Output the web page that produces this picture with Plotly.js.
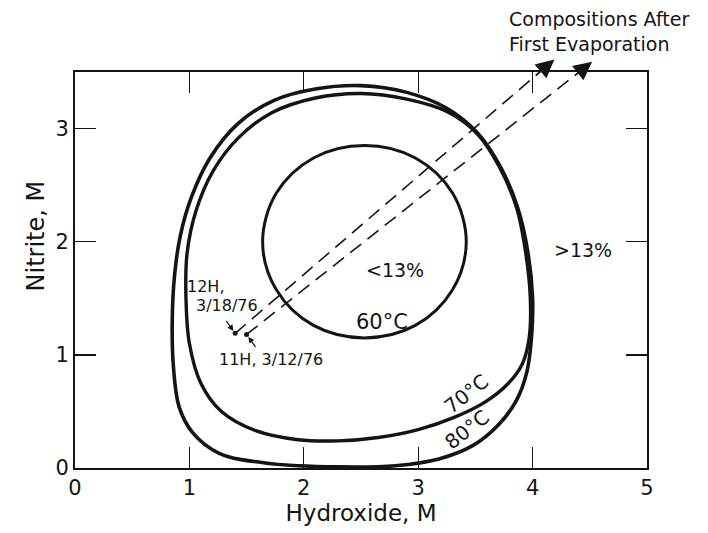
<!DOCTYPE html>
<html>
<head>
<meta charset="utf-8">
<script src="https://cdn.plot.ly/plotly-3.0.1.min.js"></script>
<style>html,body{margin:0;padding:0;background:#fff;}#chart{width:708px;height:533px;}</style>
</head>
<body>
<div id="chart"></div>
<script>
// 60 °C solubility boundary (inner closed curve)
const c60x = [3.42, 3.30, 2.975, 2.53, 2.085, 1.76, 1.64, 1.76, 2.085, 2.53, 2.975, 3.30, 3.42];
const c60y = [2.00, 2.43, 2.74, 2.85, 2.74, 2.43, 2.00, 1.575, 1.26, 1.15, 1.26, 1.575, 2.00];
// 70 °C boundary
const c70x = [2.50, 2.90, 3.25, 3.52, 3.71, 3.86, 3.94, 3.98, 3.97, 3.91, 3.78, 3.58, 3.32, 3.00, 2.65, 2.30, 1.95, 1.58, 1.28, 1.10, 1.00, 0.97, 0.98, 1.06, 1.21, 1.43, 1.72, 2.10, 2.50];
const c70y = [3.31, 3.26, 3.15, 2.95, 2.66, 2.30, 1.90, 1.50, 1.15, 0.92, 0.74, 0.58, 0.45, 0.34, 0.27, 0.24, 0.25, 0.33, 0.50, 0.75, 1.10, 1.50, 1.90, 2.28, 2.63, 2.92, 3.14, 3.27, 3.31];
// 80 °C boundary
const c80x = [2.50, 2.90, 3.25, 3.52, 3.72, 3.87, 3.96, 4.00, 3.99, 3.95, 3.86, 3.70, 3.48, 3.18, 2.80, 2.30, 1.70, 1.26, 1.03, 0.91, 0.86, 0.85, 0.87, 0.92, 1.02, 1.18, 1.42, 1.74, 2.10, 2.50];
const c80y = [3.38, 3.32, 3.18, 2.96, 2.66, 2.30, 1.90, 1.50, 1.15, 0.85, 0.60, 0.38, 0.20, 0.08, 0.02, 0.01, 0.04, 0.13, 0.31, 0.54, 0.90, 1.30, 1.70, 2.05, 2.40, 2.74, 3.04, 3.25, 3.35, 3.38];
// Tank samples and composition after first evaporation (arrow tips)
const sampleNames = ["12H, 3/18/76", "11H, 3/12/76"];
const sampleX = [1.40, 1.50];
const sampleY = [1.19, 1.18];
const afterX = [4.19, 4.52];
const afterY = [3.61, 3.59];
const xTicks = [0, 1, 2, 3, 4, 5];
const yTicks = [0, 1, 2, 3];

const FONT = "DejaVu Sans, Verdana, sans-serif";
const INK = "#141414";

const traces = [
  {x: c80x, y: c80y, mode: "lines", line: {color: INK, width: 3.6, shape: "spline", smoothing: 1}, name: "80°C", hoverinfo: "skip"},
  {x: c70x, y: c70y, mode: "lines", line: {color: INK, width: 3.4, shape: "spline", smoothing: 1}, name: "70°C", hoverinfo: "skip"},
  {x: c60x, y: c60y, mode: "lines", line: {color: INK, width: 3.0, shape: "spline", smoothing: 1}, name: "60°C", hoverinfo: "skip"}
];
for (let i = 0; i < sampleX.length; i++) {
  traces.push({x: [sampleX[i], afterX[i]], y: [sampleY[i], afterY[i]], mode: "lines",
    line: {color: INK, width: 1.6, dash: "14px,8px"}, name: sampleNames[i], hoverinfo: "skip"});
}
traces.push({x: sampleX, y: sampleY, mode: "markers", marker: {color: INK, size: 5}, name: "samples", hoverinfo: "skip"});

const annotations = [];
// arrowheads at top: tail on the line near the frame top
const yTail = 3.46;
for (let i = 0; i < sampleX.length; i++) {
  const t = (yTail - sampleY[i]) / (afterY[i] - sampleY[i]);
  annotations.push({x: afterX[i], y: afterY[i], xref: "x", yref: "y",
    ax: sampleX[i] + t * (afterX[i] - sampleX[i]), ay: yTail, axref: "x", ayref: "y",
    text: "", showarrow: true, arrowhead: 2, arrowsize: 2.8, arrowwidth: 1.3, arrowcolor: INK});
}
// small pointer arrows to the sample dots
annotations.push({x: sampleX[0], y: sampleY[0], xref: "x", yref: "y", ax: -10, ay: -14, text: "",
  showarrow: true, arrowhead: 2, arrowsize: 1, arrowwidth: 1.2, arrowcolor: INK, standoff: 3});
annotations.push({x: sampleX[1], y: sampleY[1], xref: "x", yref: "y", ax: 10, ay: 14, text: "",
  showarrow: true, arrowhead: 2, arrowsize: 1, arrowwidth: 1.2, arrowcolor: INK, standoff: 3});

function lbl(text, x, y, size, extra) {
  return Object.assign({text: text, x: x, y: y, xref: "x", yref: "y", showarrow: false,
    font: {family: FONT, size: size, color: INK}}, extra || {});
}
annotations.push(lbl("12H,", 1.14, 1.60, 16));
annotations.push(lbl("3/18/76", 1.33, 1.44, 16));
annotations.push(lbl("11H, 3/12/76", 1.71, 0.96, 16));
annotations.push(lbl("&lt;13%", 2.80, 1.75, 19));
annotations.push(lbl("&gt;13%", 4.44, 1.93, 19));
annotations.push(lbl("60°C", 2.68, 1.29, 21));
annotations.push(lbl("70°C", 3.42, 0.65, 20, {textangle: -38}));
annotations.push(lbl("80°C", 3.42, 0.34, 20, {textangle: -38}));
annotations.push({text: "Compositions After<br>First Evaporation", x: 0.755, y: 1.102, xref: "paper", yref: "paper",
  xanchor: "left", yanchor: "middle", align: "left", showarrow: false,
  font: {family: FONT, size: 19, color: INK}});
annotations.push({text: "Nitrite, M", xref: "paper", yref: "paper", x: -0.068, y: 0.585,
  xanchor: "center", yanchor: "middle", textangle: -90, showarrow: false,
  font: {family: FONT, size: 24, color: INK}});

const axisCommon = {showgrid: false, zeroline: false, showline: true, linecolor: INK, linewidth: 2,
  mirror: "ticks", ticks: "inside", ticklen: 21, tickwidth: 1.4, tickcolor: INK,
  tickfont: {family: FONT, size: 21, color: INK}, fixedrange: true};

const layout = {
  width: 708, height: 533,
  margin: {l: 75, r: 61, t: 72, b: 65},
  paper_bgcolor: "#fff", plot_bgcolor: "#fff",
  showlegend: false,
  xaxis: Object.assign({}, axisCommon, {range: [0, 5], tickvals: xTicks, ticktext: xTicks.map(String),
    title: {text: "Hydroxide, M", font: {family: FONT, size: 23, color: INK}, standoff: 6}}),
  yaxis: Object.assign({}, axisCommon, {range: [0, 3.5], tickvals: yTicks, ticktext: yTicks.map(String)}),
  annotations: annotations
};
Plotly.newPlot("chart", traces, layout, {staticPlot: true, displayModeBar: false});
</script>
</body>
</html>
